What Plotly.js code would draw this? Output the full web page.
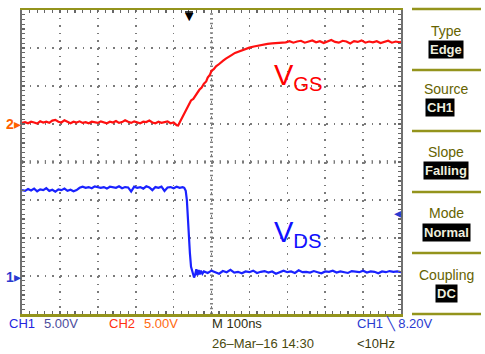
<!DOCTYPE html>
<html>
<head>
<meta charset="utf-8">
<script src="https://cdn.plot.ly/plotly-3.0.1.min.js"></script>
<style>
html,body{margin:0;padding:0;background:#fff;}
#chart{width:485px;height:354px;}
</style>
</head>
<body>
<div id="chart"></div>
<script>
// ---- Data (time in ns, voltage in V) ----
const ch2Time = [0,8,16,24,32,40,48,56,64,72,80,88,96,104,112,120,128,136,144,152,160,168,176,184,192,200,208,216,224,232,240,248,256,264,272,280,288,296,304,312,320,328,336,344,352,360,368,376,384,392,400,408,
  412,418,424,430,436,440,446,452,458,462,468,474,480,486,490,496,500,506,512,518,524,530,538,546,554,562,570,580,590,600,612,624,636,648,660,672,684,
  696,706,716,726,736,746,756,766,776,786,796,806,816,826,836,846,856,866,876,886,896,906,916,926,936,946,956,966,976,986,996,1000];
const ch2Volts = [0.15,0.25,0.1,0.3,0.2,0.05,0.35,0.2,0.3,0.15,0.45,0.55,0.3,0.2,0.5,0.25,0.1,0.3,0.2,0.35,0.15,0.25,0.1,0.3,0.2,0.15,0.35,0.25,0.1,0.3,0.2,0.4,0.15,0.25,0.5,0.3,0.15,0.35,0.2,0.1,0.3,0.25,0.45,0.2,0.1,0.3,0.15,0.25,0.35,0.1,0.2,-0.15,
  -0.2,0.4,1.0,1.5,2.3,2.6,3.1,3.3,3.8,4.1,4.5,4.8,5.3,5.6,6.1,6.5,7.0,7.2,7.6,7.8,8.1,8.3,8.6,8.9,9.1,9.35,9.5,9.75,9.9,10.05,10.2,10.35,10.45,10.55,10.6,10.65,10.7,
  10.75,10.9,10.7,10.85,10.95,10.7,10.8,11.0,10.75,10.9,10.65,10.85,11.05,10.8,10.7,10.95,10.85,10.6,10.9,10.8,11.0,10.7,10.85,10.75,10.9,10.65,10.8,10.95,10.7,10.85,10.75,10.8];

const ch1Time = [0,8,16,24,32,40,48,56,64,72,80,88,96,104,112,120,128,136,144,152,160,168,176,184,192,200,208,216,224,232,240,248,256,264,272,280,288,296,304,312,320,328,336,344,352,360,368,376,384,392,400,408,416,424,
  428,432,435,437,440,443,446,450,454,457,460,463,466,469,472,476,480,
  490,500,510,520,530,540,550,560,570,580,590,600,610,620,630,640,650,660,670,680,690,700,710,720,730,740,750,760,770,780,790,800,810,820,830,840,850,860,870,880,890,900,910,920,930,940,950,960,970,980,990,1000];
const ch1Volts = [11.3,11.2,11.45,11.25,11.5,11.15,11.4,11.3,11.55,11.2,11.35,11.1,11.4,11.3,11.5,11.2,11.35,11.15,11.3,11.6,11.75,11.6,11.7,11.55,11.8,11.65,11.6,11.7,11.5,11.75,11.65,11.6,11.8,11.55,11.7,11.65,11.1,11.75,11.6,11.7,11.5,11.8,11.65,11.3,11.7,11.6,11.75,11.2,11.65,11.7,11.55,11.75,11.6,11.7,
  11.6,11.2,10.0,7.7,5.2,3.0,1.2,0.4,-0.2,0.2,0.9,0.1,0.8,0.2,0.7,0.3,0.6,
  0.4,0.7,0.5,0.3,0.65,0.5,0.8,0.45,0.55,0.35,0.6,0.5,0.7,0.4,0.55,0.65,0.45,0.6,0.3,0.55,0.7,0.5,0.6,0.4,0.75,0.5,0.55,0.45,0.65,0.5,0.35,0.6,0.55,0.7,0.45,0.6,0.5,0.4,0.65,0.55,0.5,0.7,0.45,0.6,0.55,0.35,0.6,0.5,0.65,0.55,0.6,0.5];

const ch1Label = ["CH1", "5.00V"];
const ch2Label = ["CH2", "5.00V"];
const timebase = "M 100ns";
const dateText = "26\u2013Mar\u201316 14:30";
const trigText = "CH1 \u2572 8.20V";
const freqText = "<10Hz";
const menuTitles = ["Type","Source","Slope","Mode","Coupling"];
const menuValues = ["Edge","CH1","Falling","Normal","DC"];

// ---- geometry helpers (pixel -> paper) ----
const L = 22, R = 401, T = 10, B = 314;
const W = 485, H = 354;
const pxX = x => (x - L) / (R - L);
const pxY = y => (B - y) / (B - T);

const OLIVE = "#94941c";
const MENU_TXT = "#666300";
const FONT = "Liberation Sans Narrow, Liberation Sans, Arial, sans-serif";

const traces = [
  {x: ch2Time, y: ch2Volts, type: "scatter", mode: "lines", yaxis: "y2",
   line: {color: "#ff1010", width: 2.2}, hoverinfo: "skip"},
  {x: ch1Time, y: ch1Volts, type: "scatter", mode: "lines", yaxis: "y",
   line: {color: "#1a22ff", width: 2.2}, hoverinfo: "skip"}
];

const ann = [];
function txt(text, x, y, opts) {
  ann.push(Object.assign({text: text, x: pxX(x), y: pxY(y), xref: "paper", yref: "paper",
    showarrow: false, xanchor: "center", yanchor: "middle",
    font: {family: FONT, size: 13, color: "#000"}}, opts || {}));
}
// right menu
const menuY = [[31, 50], [89, 108], [152, 170], [213, 232], [275, 293]];
const menuBoxX = [446, 440, 446, 446, 446];
menuTitles.forEach((t, i) => {
  txt(t, 446, menuY[i][0], {font: {family: FONT, size: 14, color: MENU_TXT}});
  txt("<b>" + menuValues[i] + "</b>", menuBoxX[i], menuY[i][1], {bgcolor: "#000", borderpad: 1,
    font: {family: FONT, size: 13, color: "#eeeedd"}});
});
// bottom status
txt(ch1Label[0], 7, 323, {xanchor: "left", font: {family: FONT, size: 13, color: "#2424e0"}});
txt(ch1Label[1], 42, 323, {xanchor: "left", font: {family: FONT, size: 13, color: "#4c4c9c"}});
txt(ch2Label[0], 107, 323, {xanchor: "left", font: {family: FONT, size: 13, color: "#ff3010"}});
txt(ch2Label[1], 142, 323, {xanchor: "left", font: {family: FONT, size: 13, color: "#ff6a10"}});
txt(timebase, 210, 323, {xanchor: "left", font: {family: FONT, size: 13, color: "#2e2e10"}});
txt(dateText, 210, 343, {xanchor: "left", font: {family: FONT, size: 13, color: "#4a4a10"}});
txt(trigText, 355, 323, {xanchor: "left", font: {family: FONT, size: 13, color: "#2a3ad0"}});
txt(freqText, 355, 343, {xanchor: "left", font: {family: FONT, size: 13, color: "#3a3a10"}});
// channel markers
txt("<b>2</b>\u25B8", 13, 124, {font: {family: "Liberation Sans, Arial", size: 14, color: "#ff6000"}});
txt("<b>1</b>\u25B8", 13, 277, {font: {family: "Liberation Sans, Arial", size: 14, color: "#2a3ad0"}});
txt("\u25C2", 397, 213, {font: {family: "DejaVu Sans", size: 14, color: "#2a3ad0"}});
txt("\u25BC", 189, 16, {font: {family: "DejaVu Sans", size: 11, color: "#000"}});
// signal labels
txt("V<sub>GS</sub>", 272, 77, {xanchor: "left", font: {family: "Liberation Sans, Arial", size: 29, color: "#ff0000"}});
txt("V<sub>DS</sub>", 272, 234, {xanchor: "left", font: {family: "Liberation Sans, Arial", size: 29, color: "#1010ff"}});

const shapes = [];
// center graticule
shapes.push({type: "line", xref: "x", yref: "paper", x0: 500, x1: 500, y0: 0, y1: 1, layer: "below",
  line: {color: "#808080", width: 3, dash: "1.4px,3.35px"}});
shapes.push({type: "line", xref: "paper", yref: "y", x0: 0, x1: 1, y0: 15, y1: 15, layer: "below",
  line: {color: "#808080", width: 4, dash: "1.2px,6.4px"}});
// trigger position bar
shapes.push({type: "line", xref: "paper", yref: "paper", x0: pxX(185), x1: pxX(193), y0: pxY(12), y1: pxY(12),
  line: {color: "#000", width: 1.5}});
// menu separators
[9, 70, 131, 192, 253, 314].forEach(y => {
  shapes.push({type: "line", xref: "paper", yref: "paper", x0: pxX(412), x1: pxX(481), y0: pxY(y), y1: pxY(y),
    line: {color: OLIVE, width: 2.5}});
});

const layout = {
  width: W, height: H,
  margin: {l: L, r: W - R, t: T, b: H - B, pad: 0},
  paper_bgcolor: "#fff", plot_bgcolor: "#fff",
  showlegend: false,
  xaxis: {range: [0, 1000], dtick: 100, tick0: 0, showticklabels: false,
    showgrid: true, gridcolor: "#7a7a7a", gridwidth: 1.6, griddash: "1.6px,6px",
    zeroline: false, showline: true, linecolor: OLIVE, linewidth: 2.5, mirror: "ticks",
    ticks: "inside", ticklen: 3, tickcolor: "#666", tickwidth: 1.2,
    minor: {dtick: 20, ticks: "inside", ticklen: 3, tickcolor: "#666", tickwidth: 1.2, showgrid: false},
    fixedrange: true},
  yaxis: {range: [-5, 35], dtick: 5, tick0: 0, showticklabels: false,
    showgrid: true, gridcolor: "#7a7a7a", gridwidth: 1.6, griddash: "1.6px,6px",
    zeroline: false, showline: true, linecolor: "#707070", linewidth: 1.8, mirror: "ticks",
    ticks: "inside", ticklen: 3, tickcolor: "#666", tickwidth: 1.2,
    minor: {dtick: 0.625, ticks: "inside", ticklen: 3, tickcolor: "#666", tickwidth: 1.2, showgrid: false},
    fixedrange: true},
  yaxis2: {range: [-25, 15], overlaying: "y", visible: false, fixedrange: true},
  annotations: ann,
  shapes: shapes
};

Plotly.newPlot("chart", traces, layout, {staticPlot: true, displayModeBar: false});
</script>
</body>
</html>
